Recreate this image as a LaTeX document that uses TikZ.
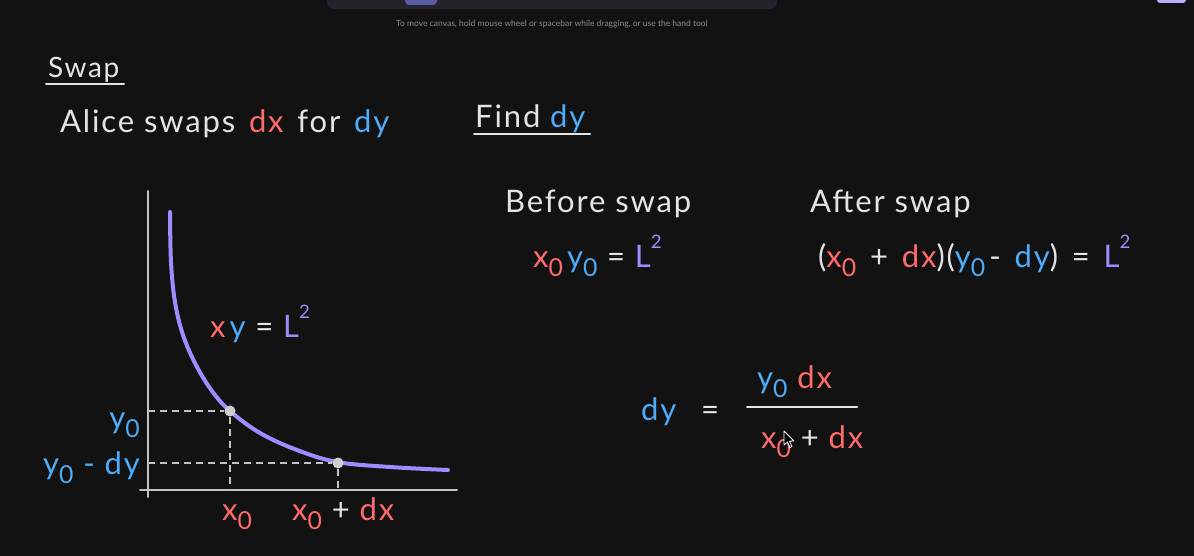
\documentclass[tikz,border=0pt]{standalone}
\usepackage{fontspec}
\usepackage{graphicx}
\setmainfont{Lato}
\newfontfamily\hand{Lato}[LetterSpace=6]
\definecolor{bg}{HTML}{121212}
\definecolor{fg}{HTML}{E4E4E4}
\definecolor{rd}{HTML}{FF6B6B}
\definecolor{bl}{HTML}{4DABF7}
\definecolor{pu}{HTML}{A08CFF}
\definecolor{bar}{HTML}{232329}
\definecolor{hint}{HTML}{8A8A8A}
\newcommand\cR[1]{\textcolor{rd}{#1}}
\newcommand\cB[1]{\textcolor{bl}{#1}}
\newcommand\cP[1]{\textcolor{pu}{#1}}
\newcommand\lowsub[1]{\raisebox{-0.3em}{\scalebox{0.8}{#1}}}
\newcommand\highsup[1]{\raisebox{0.6em}{\scalebox{0.6}{#1}}}
\newcommand\gap{\hspace{4pt}}
\begin{document}
\begin{tikzpicture}[x=1pt,y=-1pt,
  txt/.style={text=fg,inner sep=0pt,font=\hand\fontsize{31}{31}\selectfont},
  mid/.style={text=fg,inner sep=0pt,font=\hand\fontsize{28}{28}\selectfont},
  axis/.style={draw=fg!85!black,line width=2pt,line cap=round},
  guide/.style={draw=fg!85!black,line width=1.3pt,dash pattern=on 7pt off 5pt},
  uline/.style={draw=fg,line width=2pt,line cap=round},
  dot/.style={circle,fill=fg!90!black,inner sep=0pt,minimum size=11pt}]
\fill[bg] (0,0) rectangle (1194,556);
\useasboundingbox (0,0) rectangle (1194,556);
% UI chrome
\fill[bar,rounded corners=7pt] (327,-12) rectangle (777,9);
\fill[bar!60!blue!70!white,rounded corners=4pt] (405,-6) rectangle (437,5);
\fill[pu!70!white,rounded corners=3pt] (1157,-6) rectangle (1186,3);
\node[text=hint,inner sep=0pt,font=\fontsize{8.5}{8.5}\selectfont] (hint) at (552,24) {To move canvas, hold mouse wheel or spacebar while dragging, or use the hand tool};
% headings
\node[mid,anchor=base west] (swap) at (48,78) {Swap};
\draw[uline] (46,84) -- (124,84);
\node[txt,anchor=base west] (alice) at (60,133) {Alice swaps {\gap}\cR{dx} {\gap}for {\gap}\cB{dy}};
\node[txt,anchor=base west] (find) at (475,128) {Find \cB{dy}};
\draw[uline] (474,134) -- (590,134);
\node[txt,anchor=base west] (before) at (505,213) {Before swap};
\node[txt,anchor=base west] (after) at (810,213) {After swap};
\node[txt,anchor=base west] (eq1) at (533,267) {\cR{x\lowsub{0}}{\gap}\cB{y\lowsub{0}} = \cP{L\highsup{2}}};
\node[txt,anchor=base west] (eq2) at (818,267) {(\cR{x\lowsub{0}} {\gap}+ {\gap}\cR{dx})(\cB{y\lowsub{0}}{\gap}- {\gap}\cB{dy}) {\gap}= {\gap}\cP{L\highsup{2}}};
% graph
\coordinate (yb) at (148,497);
\coordinate (yt) at (148,191);
\coordinate (xl) at (140,490);
\coordinate (xr) at (457,490);
\draw[axis] (yb) -- (yt);
\draw[axis] (xl) -- (xr);
\draw[draw=pu,line width=4pt,line cap=round] plot[smooth,tension=0.6] coordinates {(170,212) (171,262) (175,302) (183,335) (196,365) (212,391) (230,411) (260,433) (297,450) (337,462) (390,467) (448,470)};
\node[dot] (p1) at (230,411) {};
\node[dot] (p2) at (338,463) {};
\coordinate (h1) at (148,411);
\coordinate (v1) at (230,490);
\coordinate (h2) at (148,463);
\coordinate (v2) at (338,490);
\draw[guide] (h1) -- (p1) -- (v1);
\draw[guide] (h2) -- (p2) -- (v2);
\node[txt,anchor=base west] (curvelbl) at (210,337) {\cR{x}{\gap}\cB{y} = \cP{L\highsup{2}}};
\node[txt,anchor=base east] (ly0) at (140,428) {\cB{y\lowsub{0}}};
\node[txt,anchor=base east] (ly1) at (140,474) {\cB{y\lowsub{0} - dy}};
\node[txt,anchor=base west] (lx0) at (222,520) {\cR{x\lowsub{0}}};
\node[txt,anchor=base west] (lx1) at (292,520) {\cR{x\lowsub{0}} + \cR{dx}};
% solution
\node[txt,anchor=base west] (dy) at (641,420) {\cB{dy}};
\node[txt,anchor=base west] (eqs) at (701,420) {=};
\coordinate (fl) at (747,407);
\coordinate (fr) at (857,407);
\draw[uline] (fl) -- (fr);
\node[txt,anchor=base west] (num) at (757,388) {\cB{y\lowsub{0}} \cR{dx}};
\node[txt,anchor=base west] (den) at (761,448) {\cR{x\lowsub{0}} + \cR{dx}};
% cursor
\draw[fill=black,draw=white,line width=0.8pt,line join=round] (784,431) -- (784,445) -- (787.5,442) -- (790,447.5) -- (792,446.5) -- (789.5,441.2) -- (794,441) -- cycle;
\end{tikzpicture}
\end{document}
